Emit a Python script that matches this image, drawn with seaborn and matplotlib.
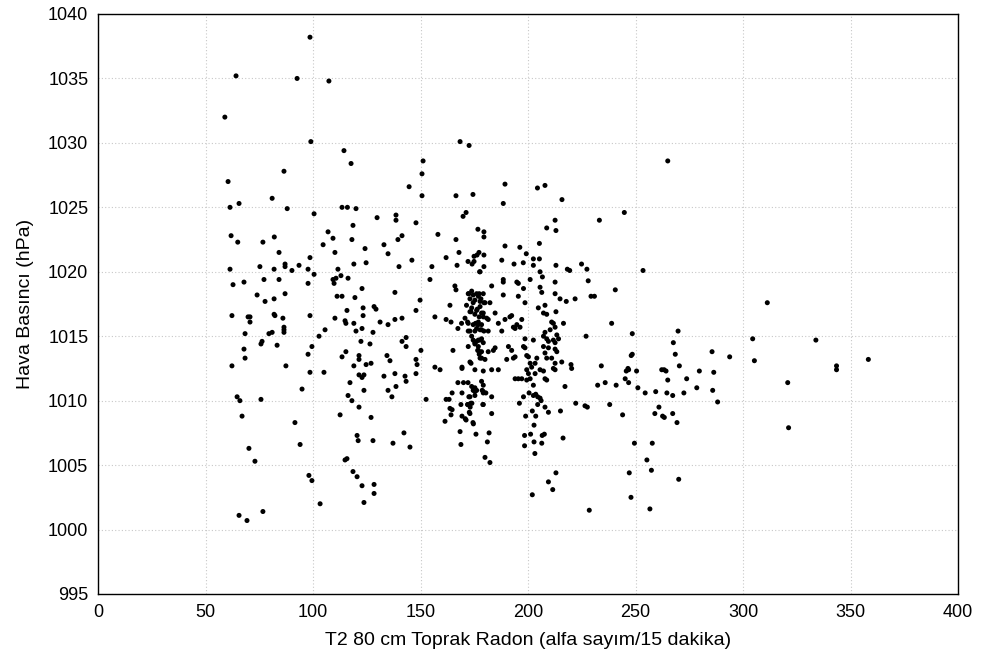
import numpy as np
import pandas as pd
import matplotlib
matplotlib.use("Agg")
import matplotlib.pyplot as plt
import seaborn as sns

# Radon counts (alfa sayım / 15 dakika) and air pressure (hPa), grouped by radon range
radon_a = [64.2, 92.6, 107.4, 98.6, 59, 99, 114.4, 117.7, 86.5, 60.5, 61.4, 65.6, 81, 88, 100.5, 113.5, 116, 120,
           129.8, 118.6, 61.9, 82, 65, 76.7, 107, 109.3, 118.1, 104.7, 110.2, 124.2, 133, 84.2, 98.6, 61.4, 75.3,
           81.9, 87, 87, 93.5, 97.7, 111.6, 119, 124.7]
press_a = [1035.2, 1035.0, 1034.8, 1038.2, 1032.0, 1030.1, 1029.4, 1028.4, 1027.8, 1027.0, 1025.0, 1025.3, 1025.7,
           1024.9, 1024.5, 1025.0, 1025.0, 1024.9, 1024.2, 1023.6, 1022.8, 1022.7, 1022.3, 1022.3, 1023.1, 1022.6,
           1022.5, 1022.1, 1021.5, 1021.8, 1022.1, 1021.5, 1021.1, 1020.2, 1020.4, 1020.2, 1020.6, 1020.4, 1020.5,
           1020.2, 1020.2, 1020.6, 1020.7]

radon_b = [90.2, 100.5, 62.8, 67.9, 77.2, 84.2, 97.7, 113, 110.7, 109.3, 109.8, 116.3, 122.8, 74, 87, 111.2, 113.5,
           119.5, 77.7, 81.9, 128.4, 129.3, 123.3, 62.3, 69.8, 70.7, 70.7, 81.9, 82.3, 86, 98.6, 115.8, 110.2, 114.9,
           115.3, 119, 123.3, 131.2, 122.8, 120, 127.9, 68.4, 79.5, 81, 86.5, 86.5, 86.5, 105.6, 102.8, 75.8, 76.3,
           83.3, 67.9, 68.4, 99.5, 97.7, 122.3, 126.5, 115.3, 113.5, 121.4, 121.4, 119, 124.7, 127, 62.3, 87.4, 98.6,
           105.1, 121.4, 123.7, 122.8, 133, 117.2, 94.9, 123.7, 116.3, 64.7, 66, 75.8, 118.1, 121.4, 67, 112.6, 127,
           91.6, 70.2, 94, 73, 120.5, 121, 127.9, 114.9, 115.8, 118.6, 120.5, 122.8, 128.4, 128.4, 123.7, 98.1, 99.5,
           103.3, 76.7, 65.6, 69.3]
press_b = [1020.1, 1019.8, 1019.0, 1019.2, 1019.4, 1019.4, 1019.1, 1019.7, 1019.5, 1019.4, 1019.1, 1019.5, 1018.7,
           1018.2, 1018.3, 1018.1, 1018.1, 1018.0, 1017.7, 1017.9, 1017.3, 1017.1, 1017.2, 1016.6, 1016.5, 1016.5,
           1016.1, 1016.7, 1016.6, 1016.4, 1016.6, 1017.0, 1016.4, 1016.2, 1016.0, 1016.0, 1016.6, 1016.1, 1015.6,
           1015.4, 1015.3, 1015.2, 1015.2, 1015.3, 1015.7, 1015.5, 1015.3, 1015.5, 1015.0, 1014.4, 1014.6, 1014.3,
           1014.0, 1013.3, 1014.2, 1013.6, 1014.6, 1014.4, 1013.8, 1013.4, 1013.5, 1013.2, 1012.7, 1012.8, 1012.9,
           1012.7, 1012.7, 1012.2, 1012.2, 1012.0, 1012.0, 1011.8, 1011.9, 1011.4, 1010.9, 1010.8, 1010.4, 1010.3,
           1010.0, 1010.1, 1010.0, 1009.5, 1008.8, 1008.9, 1008.7, 1008.3, 1006.3, 1006.6, 1005.3, 1007.3, 1006.9,
           1006.9, 1005.4, 1005.5, 1004.5, 1004.1, 1003.4, 1003.5, 1002.8, 1002.1, 1004.2, 1003.8, 1002.0, 1001.4,
           1001.1, 1000.7]

radon_c = [168.4, 172.6, 151.2, 150.7, 144.7, 150.7, 166.5, 174.4, 171.2, 169.8, 138.6, 138.6, 147.9, 158.1, 139.5,
           141.4, 166.5, 176.7, 179.5, 179.5, 134.9, 146, 161.9, 167.9, 140, 155.3, 167, 172.1, 174, 174.9, 174.9,
           176.3, 177.2, 179.5, 179.5, 177.7, 154.4,
           166, 166.5, 138.1, 149.8, 147.9, 163.7, 134.9, 138.1, 141.4, 156.7, 161.9, 164.2, 167.4, 141.4, 143.3,
           143.3, 150.2, 134.4, 135.8, 147.9, 148.4, 165.1, 156.7, 159.1, 169.3, 169.3, 138.1, 142.8, 143.3, 147.9,
           134.9, 138.6, 136.7, 152.6, 161.9, 163.3, 164.7, 167.4, 172.1, 169.3, 163.7, 164.7, 164.2, 161.4, 168.8,
           169.3, 171.2, 168.4, 168.8, 174.4, 175.8, 142.3, 137.2, 145.1, 180]
press_c = [1030.1, 1029.8, 1028.6, 1027.6, 1026.6, 1025.9, 1025.9, 1026.0, 1024.6, 1024.3, 1024.4, 1024.0, 1023.8,
           1022.9, 1022.5, 1022.8, 1022.5, 1023.3, 1023.1, 1022.7, 1021.4, 1020.9, 1021.1, 1021.5, 1020.4, 1020.4,
           1020.5, 1020.8, 1020.6, 1020.8, 1021.2, 1021.3, 1021.5, 1021.3, 1020.4, 1020.0, 1019.4,
           1018.9, 1018.6, 1018.4, 1017.8, 1017.0, 1017.4, 1015.9, 1016.3, 1016.4, 1016.5, 1016.3, 1016.1, 1015.6,
           1014.6, 1014.9, 1014.2, 1013.9, 1013.5, 1013.1, 1013.2, 1012.8, 1013.9, 1012.6, 1012.4, 1012.6, 1012.5,
           1012.1, 1011.9, 1011.5, 1012.1, 1010.8, 1011.1, 1010.3, 1010.1, 1010.1, 1010.1, 1010.6, 1011.4, 1011.4,
           1010.6, 1009.4, 1009.3, 1008.9, 1008.4, 1009.7, 1008.8, 1008.5, 1007.6, 1006.6, 1008.3, 1007.4, 1007.5,
           1006.7, 1006.4, 1005.6]

radon_d = [177.5, 172.2, 173.8, 174.5, 176.1, 176.9, 173, 175.3, 171.4, 174.5, 177.7, 180, 182.3, 173.8, 176.1,
           177.7, 179.2, 173, 175.3, 180.8, 181.5, 170.7, 169.1, 172.2, 174.5, 176.9, 176.1, 177.7, 173, 175.3, 181.5,
           184.7, 186.2, 189.3, 191.6, 192.4, 193.2, 194, 194.8, 196.3, 197.1, 187.8, 183.1, 188.5, 188.5, 194.8,
           195.5, 188.5, 195.5, 198.6, 197.9, 201, 205.6, 205.6, 206.4, 212.6, 212.6, 214.9, 207.9, 207.2, 208.7,
           204.8, 211, 211.8, 212.6, 210.3, 216.5, 213.4, 214.2, 207.9, 207.2, 208.7, 209.5, 211.8, 212.6, 202.5,
           207.2, 209.5, 207.9, 208.7, 211, 212.6, 211.8, 212.6, 204.1, 203.3, 205.6, 198.6, 197.9, 198.6, 199.4,
           200.2, 201, 201.7, 199.4, 200.2, 203.3, 197.1, 199.4, 201, 202.5, 194, 195.5, 207.2, 207.9, 208.7, 190.9,
           192.4, 194, 190.1, 193.2, 184.7, 183.9, 181.5, 178.4, 176.9, 177.7, 180, 173.8, 174.5, 175.3, 176.1, 176.9,
           178.4, 179.2, 172.2, 173, 175.3, 179.2, 183.1, 186.2, 170, 173.8, 174.5, 175.3, 178.4, 179.2, 183.1, 173,
           197.9, 202.5, 205.6, 217.2, 215.7, 213.4, 212.6,
           172.5, 177.3, 179.2, 178.1, 179.5, 173.5, 176.4, 178.4, 177.3, 179.2, 171.9, 175.6, 176.9, 178.4, 172.2,
           178.4, 179.5, 176.9, 175.3, 177.6, 176.6, 177.3, 178.4, 173.5, 175.3, 176.1, 178.7, 172.5, 175.3, 179.2,
           171.9, 179.0, 173.0, 170.8, 174.6]
press_d = [1020.0, 1018.3, 1018.5, 1018.2, 1018.3, 1018.1, 1017.9, 1017.8, 1017.4, 1017.6, 1017.7, 1017.6, 1017.6,
           1017.2, 1017.0, 1017.3, 1016.8, 1016.9, 1016.7, 1016.4, 1016.3, 1016.4, 1016.0, 1016.0, 1015.9, 1015.9,
           1015.6, 1015.5, 1015.4, 1015.4, 1015.4, 1016.8, 1016.0, 1016.3, 1016.5, 1016.6, 1015.7, 1015.6, 1015.9,
           1015.7, 1016.3, 1015.4, 1018.9, 1019.4, 1019.2, 1019.2, 1019.1, 1018.2, 1018.1, 1017.6, 1018.7, 1019.4,
           1020.0, 1018.8, 1018.4, 1019.2, 1018.3, 1017.9, 1017.4, 1016.8, 1016.7, 1017.2, 1016.1, 1016.0, 1015.7,
           1015.5, 1016.0, 1015.1, 1014.8, 1015.3, 1015.0, 1014.8, 1014.6, 1014.7, 1014.5, 1014.7, 1014.2, 1014.1,
           1013.7, 1013.3, 1013.3, 1012.9, 1012.5, 1012.4, 1013.3, 1012.9, 1012.4, 1014.8, 1014.2, 1014.1, 1013.5,
           1013.4, 1012.9, 1012.6, 1012.4, 1012.1, 1012.1, 1011.7, 1011.6, 1011.7, 1011.2, 1011.7, 1011.7, 1012.3,
           1011.7, 1011.6, 1014.2, 1013.9, 1013.4, 1013.2, 1013.3, 1014.1, 1013.9, 1013.8, 1013.8, 1013.9, 1013.3,
           1013.2, 1015.0, 1014.7, 1014.5, 1014.6, 1014.2, 1014.8, 1014.5, 1014.2, 1013.0, 1012.4, 1012.3, 1012.4,
           1012.4, 1011.4, 1011.1, 1010.8, 1010.7, 1011.5, 1011.2, 1010.3, 1010.3, 1010.3, 1010.4, 1010.2, 1011.1,
           1013.0, 1013.8, 1014.0,
           1018.3, 1018.3, 1018.3, 1017.9, 1017.6, 1016.9, 1017.1, 1016.8, 1016.5, 1016.5, 1016.1, 1016.0, 1016.1,
           1015.9, 1015.4, 1015.5, 1015.4, 1014.7, 1014.4, 1014.7, 1013.9, 1013.6, 1013.3, 1012.9, 1011.0, 1010.8,
           1010.8, 1010.3, 1010.4, 1010.6, 1009.7, 1009.7, 1009.0, 1008.6, 1008.2]

radon_e = [189.3, 204.4, 207.9, 215.8, 188.5, 212.6, 208.7, 213, 189.3, 196.2, 205.3, 199.2, 202.5, 205.3, 187.8,
           193.5, 197.8, 202.5, 213, 206.7,
           179.2, 180.4, 172, 173.4, 173.1, 173.9, 179.2, 172.7, 183.1, 181.9, 181.1, 182.3, 196, 200.5, 203.6, 204.5,
           206.1, 204.5, 207.9, 202, 209.5, 215.1, 198.9, 203.6, 202.8, 198.4, 201.2, 206.6, 207.6, 216.3, 198.4,
           202.8, 206.4, 203.2, 213, 209.5, 211.5, 202]
press_e = [1026.8, 1026.5, 1026.7, 1025.6, 1025.3, 1024.0, 1023.4, 1023.2, 1022.0, 1021.9, 1022.2, 1021.4, 1021.0,
           1021.0, 1020.9, 1020.6, 1020.7, 1020.5, 1020.5, 1019.6,
           1010.7, 1010.6, 1009.7, 1009.8, 1009.5, 1009.8, 1009.7, 1009.1, 1009.0, 1007.5, 1006.8, 1005.2, 1009.8,
           1010.6, 1010.5, 1010.3, 1010.0, 1009.7, 1009.5, 1009.2, 1009.1, 1009.2, 1008.8, 1008.8, 1008.1, 1007.3,
           1007.4, 1007.3, 1007.4, 1007.1, 1006.5, 1006.8, 1006.7, 1005.9, 1004.4, 1003.7, 1003.1, 1002.7]

radon_f = [244.8, 233.2, 218.3, 219.4, 224.9, 227.4, 253.5, 228, 240.6, 217.8, 221.9, 229.3, 230.9, 213,
           238.9, 227, 248.5, 269.8, 267.6, 268.5, 248, 248.5, 220, 220.3, 234.1, 246.5, 245.7, 246.8, 250.5, 262.2,
           263.3, 264.2, 270.4, 265, 245.2, 246.8, 251.1, 254.5, 259.4, 264.6, 267.3, 272.5, 232.4, 235.9, 241,
           222.2, 226.5, 227.6, 238, 244, 260.9, 259, 262.6, 263.4, 267.3, 269.3, 249.5, 257.8, 255.3, 257.4, 247.1,
           270.1, 247.9, 228.5, 256.7,
           265, 311.3, 304.5, 333.9, 285.6, 293.8, 305.3, 279.7, 286.4, 343.5, 343.5, 358.3, 273.8, 278.5, 285.9,
           288.2, 320.8, 321.2]
press_f = [1024.6, 1024.0, 1020.2, 1020.1, 1020.6, 1020.2, 1020.1, 1019.3, 1018.6, 1017.7, 1017.9, 1018.1, 1018.1,
           1016.9,
           1016.0, 1015.0, 1015.2, 1015.4, 1014.5, 1013.6, 1013.5, 1013.6, 1012.8, 1012.5, 1012.7, 1012.5, 1012.3,
           1012.4, 1012.3, 1012.4, 1012.4, 1012.3, 1012.7, 1011.6, 1011.7, 1011.4, 1011.0, 1010.6, 1010.7, 1010.6,
           1010.4, 1010.6, 1011.2, 1011.4, 1011.2, 1009.8, 1009.6, 1009.5, 1009.7, 1008.9, 1009.5, 1009.0, 1008.8,
           1008.7, 1009.0, 1008.3, 1006.7, 1006.7, 1005.4, 1004.6, 1004.4, 1003.9, 1002.5, 1001.5, 1001.6,
           1028.6, 1017.6, 1014.8, 1014.7, 1013.8, 1013.4, 1013.1, 1012.3, 1012.2, 1012.7, 1012.4, 1013.2, 1011.7,
           1011.0, 1010.8, 1009.9, 1011.4, 1007.9]

x_ticks = [0, 50, 100, 150, 200, 250, 300, 350, 400]
y_ticks = [995, 1000, 1005, 1010, 1015, 1020, 1025, 1030, 1035, 1040]
x_label = "T2 80 cm Toprak Radon (alfa sayım/15 dakika)"
y_label = "Hava Basıncı (hPa)"

df = pd.DataFrame({
    "radon": radon_a + radon_b + radon_c + radon_d + radon_e + radon_f,
    "pressure": press_a + press_b + press_c + press_d + press_e + press_f,
})

sns.set_style("white")
plt.rcParams["font.family"] = ["Liberation Sans", "DejaVu Sans"]

fig = plt.figure(figsize=(9.84, 6.68), dpi=100)
ax = fig.add_axes([98 / 984, 1 - 594 / 668, 860 / 984, 580 / 668])

sns.scatterplot(data=df, x="radon", y="pressure", ax=ax, color="black",
                s=13, linewidth=0, edgecolor="none", zorder=3)

ax.set_xlim(0, 400)
ax.set_ylim(995, 1040)
ax.set_xticks(x_ticks)
ax.set_yticks(y_ticks)
ax.grid(True, color="#c8c8c8", linestyle=(0, (1, 2)), linewidth=0.8, zorder=0)
ax.set_axisbelow(True)
for sp in ax.spines.values():
    sp.set_visible(True)
    sp.set_color("black")
    sp.set_linewidth(1.0)
ax.tick_params(axis="both", direction="out", length=4, width=0.8, color="black",
               labelsize=13, labelcolor="black", pad=3)
ax.set_xlabel(x_label, fontsize=14, labelpad=8, color="black")
ax.set_ylabel(y_label, fontsize=14, labelpad=10, color="black")

fig.savefig("out.png", dpi=100)
